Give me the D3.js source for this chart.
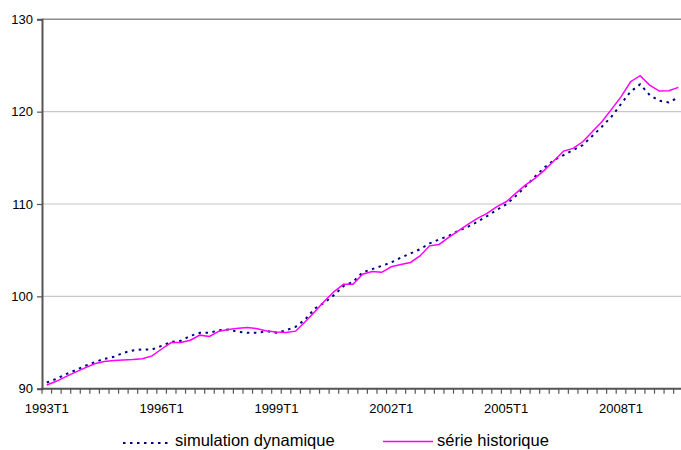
<!DOCTYPE html>
<html>
<head>
<meta charset="utf-8">
<script src="https://cdn.jsdelivr.net/npm/d3@7"></script>
<style>
  html, body { margin: 0; padding: 0; background: #fff; }
  svg { display: block; font-family: "Liberation Sans", Arial, sans-serif; }
</style>
</head>
<body>
<svg id="chart" width="681" height="450"></svg>
<script>
const categories = [
  "1993T1","1993T2","1993T3","1993T4","1994T1","1994T2","1994T3","1994T4",
  "1995T1","1995T2","1995T3","1995T4","1996T1","1996T2","1996T3","1996T4",
  "1997T1","1997T2","1997T3","1997T4","1998T1","1998T2","1998T3","1998T4",
  "1999T1","1999T2","1999T3","1999T4","2000T1","2000T2","2000T3","2000T4",
  "2001T1","2001T2","2001T3","2001T4","2002T1","2002T2","2002T3","2002T4",
  "2003T1","2003T2","2003T3","2003T4","2004T1","2004T2","2004T3","2004T4",
  "2005T1","2005T2","2005T3","2005T4","2006T1","2006T2","2006T3","2006T4",
  "2007T1","2007T2","2007T3","2007T4","2008T1","2008T2","2008T3","2008T4",
  "2009T1","2009T2","2009T3"
];
const xTickLabels = ["1993T1","1996T1","1999T1","2002T1","2005T1","2008T1"];
const yTicks = [90, 100, 110, 120, 130];

const simulation = [
  90.67, 91.06, 91.57, 92.0, 92.47, 92.87, 93.23, 93.45,
  93.88, 94.14, 94.25, 94.25, 94.64, 95.07, 95.18, 95.72,
  96.05, 96.05, 96.33, 96.4, 96.16, 96.05, 96.05, 96.23,
  96.05, 96.33, 96.7, 97.5, 98.69, 99.3, 100.13, 101.1,
  101.57, 102.6, 102.95, 103.3, 103.67, 104.2, 104.64, 105.1,
  105.73, 106.16, 106.55, 107.1, 107.53, 108.07, 108.69, 109.34,
  109.95, 110.86, 111.87, 112.95, 113.96, 114.76, 115.3, 115.84,
  116.38, 117.36, 118.37, 119.45, 120.82, 122.16, 122.96, 121.8,
  121.18, 121.0, 121.55
];
const historique = [
  90.4, 90.8, 91.3, 91.8, 92.25, 92.7, 92.95, 93.05,
  93.1, 93.15, 93.25, 93.55, 94.3, 95.0, 95.0, 95.25,
  95.8, 95.65, 96.23, 96.41, 96.55, 96.63, 96.5, 96.26,
  96.15, 96.08, 96.23, 97.24, 98.32, 99.48, 100.5, 101.3,
  101.3, 102.4, 102.7, 102.6, 103.2, 103.45, 103.67, 104.38,
  105.47, 105.62, 106.38, 107.1, 107.79, 108.44, 108.98, 109.7,
  110.24, 111.15, 112.05, 112.77, 113.67, 114.68, 115.73, 116.02,
  116.74, 117.83, 118.91, 120.25, 121.6, 123.24, 123.89, 122.88,
  122.23, 122.26, 122.63
];
const seriesNames = ["simulation dynamique", "série historique"];

const svg = d3.select("#chart");
const mLeft = 42, mTop = 19.3, mBottom = 388.7, mRight = 683.2;

const x = d3.scaleBand().domain(categories).range([mLeft, mRight]).padding(0);
const y = d3.scaleLinear().domain([90, 130]).range([mBottom, mTop]);

// gridlines
svg.append("g").selectAll("line")
  .data(yTicks.filter(v => v > 90))
  .join("line")
  .attr("x1", mLeft).attr("x2", mRight)
  .attr("y1", d => y(d)).attr("y2", d => y(d))
  .attr("stroke", d => d === 130 ? "#8c8c8c" : "#c8c8c8")
  .attr("stroke-width", d => d === 130 ? 1.5 : 1.2);

// Y axis
const yAxis = d3.axisLeft(y).tickValues(yTicks).tickSize(5).tickPadding(4).tickFormat(d3.format("d"));
const gy = svg.append("g").attr("transform", `translate(${mLeft},0)`).call(yAxis);
gy.select(".domain").attr("stroke", "#555").attr("stroke-width", 2);
gy.selectAll(".tick line").attr("stroke", "#555").attr("stroke-width", 1.2);
gy.selectAll(".tick text").attr("font-size", 13).attr("fill", "#000")
  .attr("font-family", "Liberation Sans, Arial, sans-serif");

// X axis: boundary ticks
const step = x.step();
const bounds = d3.range(categories.length + 1).map(i => mLeft + i * step);
svg.append("g").selectAll("line")
  .data(bounds)
  .join("line")
  .attr("x1", d => d).attr("x2", d => d)
  .attr("y1", mBottom).attr("y2", mBottom + 5)
  .attr("stroke", "#555").attr("stroke-width", 1.2);
svg.append("line")
  .attr("x1", mLeft - 1).attr("x2", mRight)
  .attr("y1", mBottom).attr("y2", mBottom)
  .attr("stroke", "#555").attr("stroke-width", 2);
svg.append("g").selectAll("text")
  .data(xTickLabels)
  .join("text")
  .attr("x", d => x(d) + x.bandwidth() / 2)
  .attr("y", 413)
  .attr("text-anchor", "middle")
  .attr("font-size", 13)
  .attr("fill", "#000")
  .text(d => d);

// Lines
const line = d3.line()
  .x((d, i) => x(categories[i]) + x.bandwidth() / 2)
  .y(d => y(d));

svg.append("path")
  .datum(simulation)
  .attr("d", line)
  .attr("fill", "none")
  .attr("stroke", "#000080")
  .attr("stroke-width", 2)
  .attr("stroke-dasharray", "2.5,4.5");

svg.append("path")
  .datum(historique)
  .attr("d", line)
  .attr("fill", "none")
  .attr("stroke", "#ff00ff")
  .attr("stroke-width", 1.5);

// Legend
const lg = svg.append("g");
lg.append("line").attr("x1", 123).attr("x2", 172).attr("y1", 443).attr("y2", 443)
  .attr("stroke", "#000080").attr("stroke-width", 2).attr("stroke-dasharray", "2.5,4.5");
lg.append("text").attr("x", 175).attr("y", 446).attr("font-size", 16.5).attr("fill", "#000")
  .text(seriesNames[0]);
lg.append("line").attr("x1", 383).attr("x2", 433).attr("y1", 441.5).attr("y2", 441.5)
  .attr("stroke", "#ff00ff").attr("stroke-width", 1.5);
lg.append("text").attr("x", 437).attr("y", 446).attr("font-size", 16.5).attr("fill", "#000")
  .text(seriesNames[1]);
</script>
</body>
</html>
